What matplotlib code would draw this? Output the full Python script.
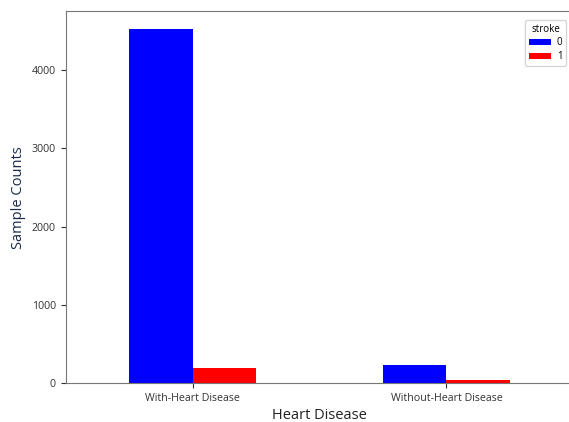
import numpy as np
import matplotlib
matplotlib.use("Agg")
import matplotlib.pyplot as plt

categories = ["With-Heart Disease", "Without-Heart Disease"]
stroke_0 = [4525, 232]
stroke_1 = [195, 45]
series_names = ["0", "1"]

plt.rcParams["font.family"] = ["Open Sans", "DejaVu Sans"]

fig = plt.figure(figsize=(5.69, 4.22), dpi=100)
ax = fig.add_axes([0.1155, 0.0917, 0.892, 0.882])

x = np.arange(len(categories))
width = 0.25
ax.bar(x - width / 2, stroke_0, width, color="blue", label=series_names[0])
ax.bar(x + width / 2, stroke_1, width, color="red", label=series_names[1])

ax.set_xlim(-0.5, 1.5)
ax.set_ylim(0, max(stroke_0) * 1.05)
ax.set_xticks(x)
ax.set_xticklabels(categories, fontsize=7.7)
ax.set_yticks([0, 1000, 2000, 3000, 4000])
ax.tick_params(axis="y", labelsize=7.7, colors="#333333")
ax.tick_params(axis="x", colors="#333333")
for sp in ax.spines.values():
    sp.set_color("#777777")
ax.spines["right"].set_visible(False)

ax.set_xlabel("Heart Disease", fontsize=10.5, color="#222222", labelpad=3)
ax.set_ylabel("Sample Counts", fontsize=10.5, color="#1a2a4a")

leg = ax.legend(title="stroke", fontsize=7, title_fontsize=7, loc="upper right",
                bbox_to_anchor=(0.996, 0.99), handlelength=2.3, borderpad=0.4,
                labelspacing=0.3, handletextpad=0.6)

fig.savefig("out.png", dpi=100)
